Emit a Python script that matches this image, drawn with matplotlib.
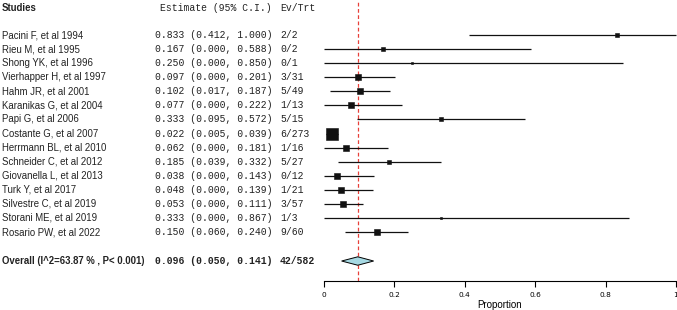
import numpy as np
import matplotlib.pyplot as plt
import matplotlib.transforms as mtransforms
from matplotlib.ticker import FuncFormatter

# study data
studies = ['Pacini F, et al 1994', 'Rieu M, et al 1995', 'Shong YK, et al 1996',
           'Vierhapper H, et al 1997', 'Hahm JR, et al 2001', 'Karanikas G, et al 2004',
           'Papi G, et al 2006', 'Costante G, et al 2007', 'Herrmann BL, et al 2010',
           'Schneider C, et al 2012', 'Giovanella L, et al 2013', 'Turk Y, et al 2017',
           'Silvestre C, et al 2019', 'Storani ME, et al 2019', 'Rosario PW, et al 2022']
est = [0.833, 0.167, 0.250, 0.097, 0.102, 0.077, 0.333, 0.022, 0.062, 0.185,
       0.038, 0.048, 0.053, 0.333, 0.150]
lo = [0.412, 0.000, 0.000, 0.000, 0.017, 0.000, 0.095, 0.005, 0.000, 0.039,
      0.000, 0.000, 0.000, 0.000, 0.060]
hi = [1.000, 0.588, 0.850, 0.201, 0.187, 0.222, 0.572, 0.039, 0.181, 0.332,
      0.143, 0.139, 0.111, 0.867, 0.240]
ev_trt = ['2/2', '0/2', '0/1', '3/31', '5/49', '1/13', '5/15', '6/273', '1/16',
          '5/27', '0/12', '1/21', '3/57', '1/3', '9/60']
weights = [1.5, 2, 1, 4.5, 5, 4.5, 2, 18, 4.5, 3, 5, 5, 6, 1, 4.5]

overall_label = 'Overall (I^2=63.87 % , P< 0.001)'
overall_est, overall_lo, overall_hi = 0.096, 0.050, 0.141
overall_evtrt = '42/582'

xticks = [0, 0.2, 0.4, 0.6, 0.8, 1]

W, H = 677, 310
fig = plt.figure(figsize=(W / 100, H / 100), dpi=100)
ax = fig.add_axes([324 / W, 29 / H, 352 / W, 281 / H])

n = len(studies)
rows = np.arange(n)
overall_row = n + 1.06

ax.set_xlim(0, 1)
ax.set_ylim(17.48, -2.49)

# CI lines and weighted squares
for i in range(n):
    ax.plot([lo[i], hi[i]], [rows[i], rows[i]], color='#111111', lw=0.9,
            solid_capstyle='butt', clip_on=False, zorder=2)
    ms = 2.85 * np.sqrt(weights[i]) * 0.72
    ax.plot(est[i], rows[i], marker='s', ms=ms, color='#111111', mec='#111111',
            mew=0.4, clip_on=False, zorder=3)

# summary diamond
dh = 0.3
ax.fill([overall_lo, overall_est, overall_hi, overall_est],
        [overall_row, overall_row - dh, overall_row, overall_row + dh],
        facecolor='#a6d9e3', edgecolor='black', lw=0.7, zorder=3)

ax.axvline(overall_est, color='#e8403a', lw=0.9, ls=(0, (3, 2)), zorder=1)

# axis styling
for s in ['top', 'right', 'left']:
    ax.spines[s].set_visible(False)
ax.spines['bottom'].set_linewidth(0.8)
ax.set_yticks([])
ax.set_xticks(xticks)
ax.xaxis.set_major_formatter(FuncFormatter(lambda v, p: '%g' % v))
ax.tick_params(axis='x', length=4, width=0.8, labelsize=5.3, pad=4)
ax.set_xlabel('Proportion', fontsize=7, labelpad=1, family='Liberation Sans')

# text columns
trans = mtransforms.blended_transform_factory(fig.transFigure, ax.transData)
sans = 'Liberation Sans'
mono = 'Liberation Mono'
tc = '#222222'
fs = 6.9

ax.text(2 / W, -1.92, 'Studies', transform=trans, fontsize=fs, weight='bold',
        family=sans, va='center', color=tc)
ax.text(160 / W, -1.92, 'Estimate (95% C.I.)', transform=trans, fontsize=7,
        family=mono, va='center', color=tc)
ax.text(280 / W, -1.92, 'Ev/Trt', transform=trans, fontsize=7,
        family=mono, va='center', color=tc)

for i in range(n):
    ax.text(2 / W, rows[i], studies[i], transform=trans, fontsize=fs,
            family=sans, va='center', color=tc)
    ax.text(155 / W, rows[i], '%.3f (%.3f, %.3f)' % (est[i], lo[i], hi[i]),
            transform=trans, fontsize=7, family=mono, va='center', color=tc)
    ax.text(280 / W, rows[i], ev_trt[i], transform=trans, fontsize=7,
            family=mono, va='center', color=tc)

ax.text(2 / W, overall_row, overall_label, transform=trans, fontsize=fs,
        weight='bold', family=sans, va='center', color=tc)
ax.text(155 / W, overall_row, '%.3f (%.3f, %.3f)' % (overall_est, overall_lo, overall_hi),
        transform=trans, fontsize=7, weight='bold', family=mono, va='center', color=tc)
ax.text(280 / W, overall_row, overall_evtrt, transform=trans, fontsize=7,
        weight='bold', family=mono, va='center', color=tc)

plt.savefig('out.png', dpi=100)
